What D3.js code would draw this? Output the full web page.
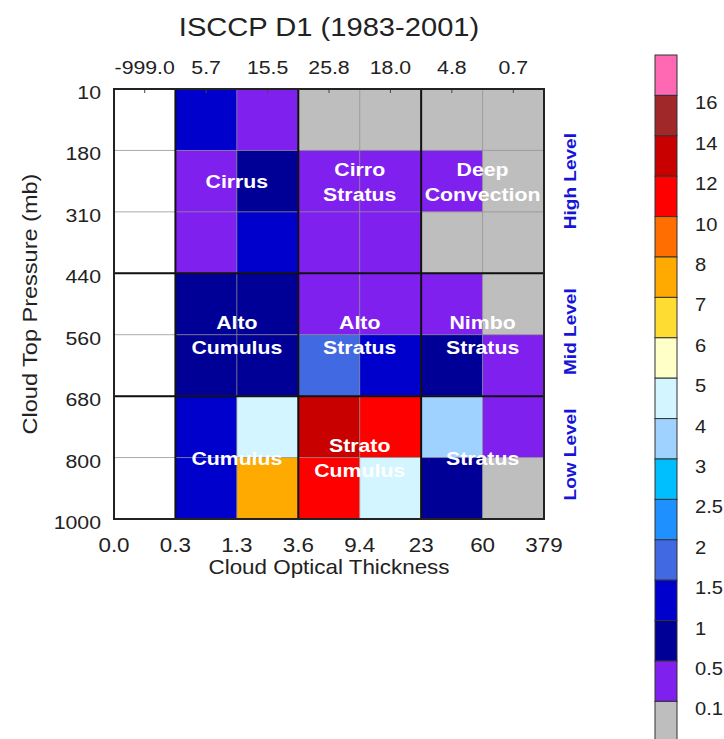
<!DOCTYPE html>
<html>
<head>
<meta charset="utf-8">
<script src="https://cdn.jsdelivr.net/npm/d3@7"></script>
<style>
  body { margin: 0; background: #fff; }
  svg { display: block; font-family: "Liberation Sans", Arial, sans-serif; }
</style>
</head>
<body>
<div id="chart"></div>
<script>
// optical thickness bin edges (bottom axis)
const tauEdges = ["0.0", "0.3", "1.3", "3.6", "9.4", "23", "60", "379"];
// pressure bin edges (left axis), top to bottom
const presEdges = ["10", "180", "310", "440", "560", "680", "800", "1000"];
// column totals printed on top
const columnTotals = ["-999.0", "5.7", "15.5", "25.8", "18.0", "4.8", "0.7"];

// cloud fraction (%) per cell, rows = pressure bins top->bottom, cols = tau bins
// first column is missing
const cellValues = [
	[null, 1.2, 0.3, 0.05, 0.05, 0.05, 0.05],
	[null, 0.3, 0.7, 0.3, 0.35, 0.2, 0.05],
	[null, 0.3, 1.1, 0.3, 0.3, 0.05, 0.05],
	[null, 0.7, 0.7, 0.35, 0.3, 0.2, 0.05],
	[null, 0.8, 0.7, 1.7, 1.2, 0.6, 0.2],
	[null, 1.2, 4.5, 12.6, 11.3, 3.2, 0.25],
	[null, 1.2, 7.5, 10.5, 4.5, 0.5, 0.05],
];

// colour levels
const levels = [0.1, 0.5, 1, 1.5, 2, 2.5, 3, 4, 5, 6, 7, 8, 10, 12, 14, 16];
const levelLabels = ["0.1", "0.5", "1", "1.5", "2", "2.5", "3", "4", "5", "6", "7", "8", "10", "12", "14", "16"];
const levelColors = [
	"#bebebe", "#8020ee", "#000096", "#0000cd", "#4169e1", "#1e90ff", "#00bfff",
	"#a0d2ff", "#d2f5ff", "#ffffc8", "#ffdc32", "#ffaa00", "#ff6e00", "#ff0000",
	"#c80000", "#a02828", "#ff69b4",
];

// cloud type names and where they sit (column edge index, row edge index)
const cloudTypes = [
	{ name: ["Cirrus"], col: 2, row: 1.5 },
	{ name: ["Cirro", "Stratus"], col: 4, row: 1.5 },
	{ name: ["Deep", "Convection"], col: 6, row: 1.5 },
	{ name: ["Alto", "Cumulus"], col: 2, row: 4 },
	{ name: ["Alto", "Stratus"], col: 4, row: 4 },
	{ name: ["Nimbo", "Stratus"], col: 6, row: 4 },
	{ name: ["Cumulus"], col: 2, row: 6 },
	{ name: ["Strato", "Cumulus"], col: 4, row: 6 },
	{ name: ["Stratus"], col: 6, row: 6 },
];
const levelNames = [
	{ name: "High Level", row: 1.5 },
	{ name: "Mid Level", row: 3.95 },
	{ name: "Low Level", row: 5.95 },
];

const width = 724, height = 739;
const margin = { top: 89, left: 114 };
const plotSize = 430;
// the original text is a bit wide for its height
const stretch = 1.12;

const svg = d3.select("#chart").append("svg")
	.attr("width", width)
	.attr("height", height);

const x = d3.scaleLinear().domain([0, 7]).range([margin.left, margin.left + plotSize]);
const y = d3.scaleLinear().domain([0, 7]).range([margin.top, margin.top + plotSize]);
const color = d3.scaleThreshold().domain(levels).range(levelColors);

// put a text at (tx, ty), widened a little
function label(g, tx, ty, str, size, anchor, rot) {
	return g.append("text")
		.attr("transform", `translate(${tx},${ty})${rot ? ` rotate(${rot})` : ""} scale(${stretch},1)`)
		.attr("text-anchor", anchor || "middle")
		.attr("font-size", size)
		.attr("fill", "#222")
		.text(str);
}

// title
label(svg, 329, 36, "ISCCP D1 (1983-2001)", 26);

// cells
const cells = [];
cellValues.forEach((row, r) => row.forEach((v, c) => cells.push({ r, c, v })));
svg.append("g").selectAll("rect")
	.data(cells)
	.join("rect")
	.attr("x", d => x(d.c))
	.attr("y", d => y(d.r))
	.attr("width", x(1) - x(0))
	.attr("height", y(1) - y(0))
	.attr("fill", d => d.v == null ? "#fff" : color(d.v));

// thin grid lines
const grid = svg.append("g");
d3.range(1, 7).forEach(i => {
	grid.append("line")
		.attr("x1", x(i)).attr("x2", x(i))
		.attr("y1", y(0)).attr("y2", y(7))
		.attr("stroke", "#888").attr("stroke-width", 1).attr("opacity", 0.7);
	grid.append("line")
		.attr("y1", y(i)).attr("y2", y(i))
		.attr("x1", x(0)).attr("x2", x(7))
		.attr("stroke", "#888").attr("stroke-width", 1).attr("opacity", 0.7);
});
// thick group separators
[1, 3, 5].forEach(i => {
	grid.append("line")
		.attr("x1", x(i)).attr("x2", x(i))
		.attr("y1", y(0)).attr("y2", y(7))
		.attr("stroke", "#111").attr("stroke-width", 2);
});
[3, 5].forEach(i => {
	grid.append("line")
		.attr("y1", y(i)).attr("y2", y(i))
		.attr("x1", x(0)).attr("x2", x(7))
		.attr("stroke", "#111").attr("stroke-width", 2);
});
// minor ticks at top edge
d3.range(0, 7).forEach(i => {
	grid.append("line")
		.attr("x1", x(i + 0.5)).attr("x2", x(i + 0.5))
		.attr("y1", y(0)).attr("y2", y(0) + 4)
		.attr("stroke", "#444");
});
// frame
svg.append("rect")
	.attr("x", x(0)).attr("y", y(0))
	.attr("width", plotSize).attr("height", plotSize)
	.attr("fill", "none").attr("stroke", "#222").attr("stroke-width", 2);

// cloud type labels
const typeG = svg.append("g")
	.attr("font-weight", "bold");
cloudTypes.forEach(t => {
	const n = t.name.length;
	t.name.forEach((s, i) => {
		label(typeG, x(t.col), y(t.row) + 7 + (i - (n - 1) / 2) * 25, s, 19)
			.attr("fill", "#fff");
	});
});

// level labels on right
const lvlG = svg.append("g").attr("font-weight", "bold");
levelNames.forEach(l => {
	label(lvlG, 576, y(l.row), l.name, 17, "middle", -90)
		.attr("fill", "#1515d8");
});

// bottom tick labels
const bottomG = svg.append("g");
tauEdges.forEach((d, i) => label(bottomG, x(i), 552, d, 20));

// left tick labels
const leftG = svg.append("g");
presEdges.forEach((d, i) => label(leftG, 101, y(i) + 10, d, 19, "end"));

// top column totals
const topG = svg.append("g");
columnTotals.forEach((d, i) => label(topG, x(i + 0.5), 74, d, 19));

// axis titles
label(svg, 329, 574, "Cloud Optical Thickness", 20);
label(svg, 37, y(3.5), "Cloud Top Pressure (mb)", 21, "middle", -90);

// colour bar
const barTop = 55, boxH = 40.4, barX = 655, barW = 22;
const cb = svg.append("g");
const boxes = levelColors.slice().reverse();
cb.selectAll("rect")
	.data(boxes)
	.join("rect")
	.attr("x", barX)
	.attr("y", (d, i) => barTop + i * boxH)
	.attr("width", barW)
	.attr("height", boxH)
	.attr("fill", d => d)
	.attr("stroke", "#333")
	.attr("stroke-width", 1);
levelLabels.slice().reverse().forEach((d, i) => {
	label(cb, 695, barTop + (i + 1) * boxH + 14, d, 18, "start");
});
</script>
</body>
</html>
